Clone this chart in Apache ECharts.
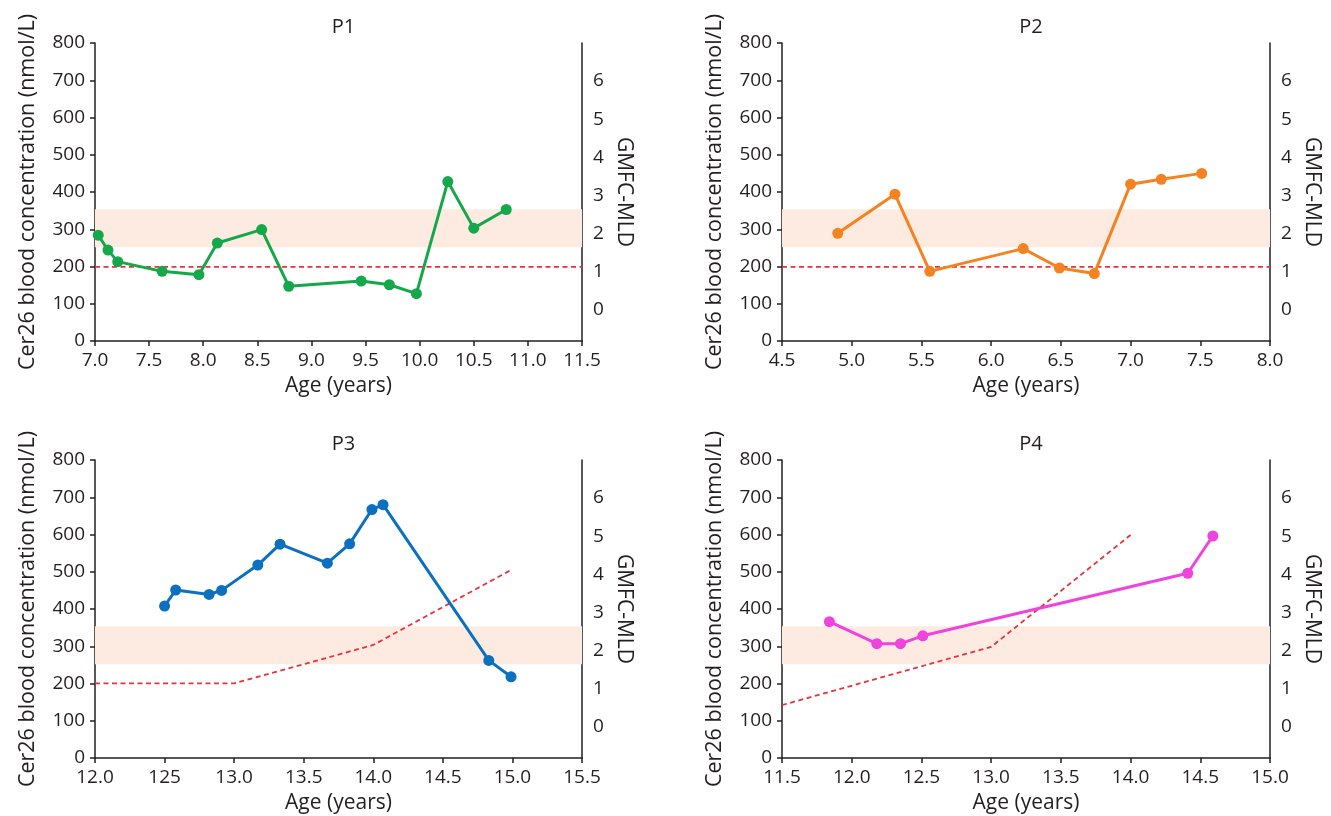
<!DOCTYPE html>
<html>
<head>
<meta charset="utf-8">
<script src="https://cdn.jsdelivr.net/npm/echarts@6/dist/echarts.min.js"></script>
<style>
  html, body { margin: 0; padding: 0; background: #fff; }
  #main { width: 1331px; height: 816px; }
</style>
</head>
<body>
<div id="main"></div>
<script>
// P1
const p1Age = [7.03, 7.12, 7.21, 7.62, 7.96, 8.13, 8.54, 8.79, 9.46, 9.72, 9.97, 10.26, 10.50, 10.80];
const p1Cer26 = [284, 244, 213, 187, 178, 263, 299, 147, 161, 151, 127, 428, 303, 353];
const p1GmfcAge = [7.0, 11.5];
const p1Gmfc = [1.12, 1.12];
const p1XLabels = ['7.0', '7.5', '8.0', '8.5', '9.0', '9.5', '10.0', '10.5', '11.0', '11.5'];

// P2
const p2Age = [4.90, 5.31, 5.56, 6.23, 6.49, 6.74, 7.00, 7.22, 7.51];
const p2Cer26 = [289, 394, 187, 248, 196, 181, 421, 434, 450];
const p2GmfcAge = [4.5, 8.0];
const p2Gmfc = [1.12, 1.12];
const p2XLabels = ['4.5', '5.0', '5.5', '6.0', '6.5', '7.0', '7.5', '8.0'];

// P3
const p3Age = [12.50, 12.58, 12.82, 12.91, 13.17, 13.33, 13.67, 13.83, 13.99, 14.07, 14.83, 14.99];
const p3Cer26 = [408, 451, 439, 450, 518, 574, 523, 575, 667, 680, 262, 218];
const p3GmfcAge = [12.0, 13.0, 14.0, 15.0];
const p3Gmfc = [1.13, 1.13, 2.14, 4.13];
const p3XLabels = ['12.0', '125', '13.0', '13.5', '14.0', '14.5', '15.0', '15.5'];

// P4
const p4Age = [11.84, 12.18, 12.35, 12.51, 14.41, 14.59];
const p4Cer26 = [366, 307, 307, 328, 496, 596];
const p4GmfcAge = [11.5, 13.0, 14.0];
const p4Gmfc = [0.56, 2.09, 5.03];
const p4XLabels = ['11.5', '12.0', '12.5', '13.0', '13.5', '14.0', '14.5', '15.0'];

// shared
const panelNames = ['P1', 'P2', 'P3', 'P4'];
const panelColors = ['#14a84b', '#f58220', '#0b70c0', '#ee44dd'];
const xRanges = [[7.0, 11.5], [4.5, 8.0], [12.0, 15.5], [11.5, 15.0]];
const normalRange = [252, 354];
const leftTicks = [0, 800, 100];
const rightTicks = [0, 1, 2, 3, 4, 5, 6];

const panels = [
  { age: p1Age, val: p1Cer26, gAge: p1GmfcAge, g: p1Gmfc, labels: p1XLabels },
  { age: p2Age, val: p2Cer26, gAge: p2GmfcAge, g: p2Gmfc, labels: p2XLabels },
  { age: p3Age, val: p3Cer26, gAge: p3GmfcAge, g: p3Gmfc, labels: p3XLabels },
  { age: p4Age, val: p4Cer26, gAge: p4GmfcAge, g: p4Gmfc, labels: p4XLabels }
];

const grids = [
  { left: 95, top: 43, width: 487, height: 298 },
  { left: 782, top: 43, width: 488, height: 298 },
  { left: 95, top: 460, width: 487, height: 298 },
  { left: 782, top: 460, width: 488, height: 298 }
];

const FONT = 'Open Sans';
const INK = '#231f20';

function txt(size) {
  return { fontFamily: FONT, fontSize: size, fontWeight: 'normal', color: INK };
}

let option = {
  backgroundColor: '#fff',
  animation: false,
  title: [],
  grid: [],
  xAxis: [],
  yAxis: [],
  series: []
};

panels.forEach(function (p, i) {
  const g = grids[i];
  option.grid.push(g);
  option.title.push({
    text: panelNames[i],
    left: g.left + g.width / 2,
    top: g.top - 31,
    textAlign: 'center',
    textStyle: txt(20)
  });
  option.xAxis.push({
    type: 'value',
    gridIndex: i,
    min: xRanges[i][0],
    max: xRanges[i][1],
    interval: 0.5,
    name: 'Age (years)',
    nameLocation: 'middle',
    nameGap: 35,
    nameTextStyle: txt(21),
    axisLine: { lineStyle: { color: INK, width: 1.5 } },
    axisTick: { show: true, length: 5, lineStyle: { color: INK, width: 1.5 } },
    axisLabel: Object.assign({
      margin: 10,
      formatter: function (v) {
        const k = Math.round((v - xRanges[i][0]) / 0.5);
        return p.labels[k] !== undefined ? p.labels[k] : '';
      }
    }, txt(19)),
    splitLine: { show: false }
  });
  option.yAxis.push({
    type: 'value',
    gridIndex: i,
    position: 'left',
    min: leftTicks[0],
    max: leftTicks[1],
    interval: leftTicks[2],
    name: 'Cer26 blood concentration (nmol/L)',
    nameLocation: 'middle',
    nameGap: 56,
    nameTextStyle: txt(21.5),
    axisLine: { show: true, lineStyle: { color: INK, width: 1.5 } },
    axisTick: { show: true, length: 5, lineStyle: { color: INK, width: 1.5 } },
    axisLabel: Object.assign({ margin: 10 }, txt(19)),
    splitLine: { show: false }
  });
  option.yAxis.push({
    type: 'value',
    gridIndex: i,
    position: 'right',
    min: -0.83,
    max: 7.0,
    minInterval: 1,
    maxInterval: 1,
    name: 'GMFC-MLD',
    nameLocation: 'middle',
    nameRotate: -90,
    nameGap: 31,
    nameTextStyle: txt(21),
    axisLine: { show: true, lineStyle: { color: INK, width: 1.5 } },
    axisTick: { show: false },
    axisLabel: Object.assign({
      margin: 11,
      formatter: function (v) {
        return rightTicks.indexOf(v) >= 0 ? String(v) : '';
      }
    }, txt(19)),
    splitLine: { show: false }
  });
  option.series.push({
    type: 'line',
    xAxisIndex: i,
    yAxisIndex: i * 2 + 1,
    data: p.gAge.map(function (a, k) { return [a, p.g[k]]; }),
    showSymbol: false,
    symbol: 'none',
    silent: true,
    z: 3,
    lineStyle: { color: '#e8333c', width: 1.8, type: [5, 3.5] }
  });
  option.series.push({
    type: 'line',
    xAxisIndex: i,
    yAxisIndex: i * 2,
    data: p.age.map(function (a, k) { return [a, p.val[k]]; }),
    symbol: 'circle',
    symbolSize: 11,
    z: 4,
    lineStyle: { color: panelColors[i], width: 3 },
    itemStyle: { color: panelColors[i] },
    markArea: {
      silent: true,
      itemStyle: { color: '#fdebe2' },
      data: [[{ yAxis: normalRange[0] }, { yAxis: normalRange[1] }]]
    }
  });
});

const chart = echarts.init(document.getElementById('main'), null, { renderer: 'canvas' });
chart.setOption(option);
</script>
</body>
</html>
